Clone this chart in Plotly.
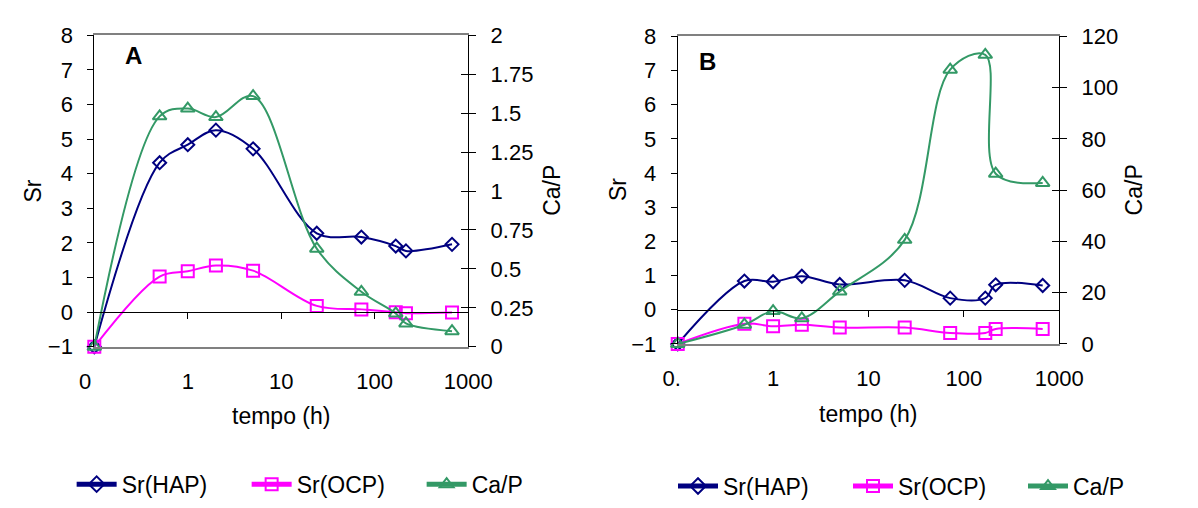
import plotly.graph_objects as go

# ---------------- data ----------------
time_h = [0.1, 0.5, 1, 2, 5, 24, 72, 168, 216, 672]

a_sr_hap = [-1, 4.32, 4.84, 5.26, 4.72, 2.28, 2.17, 1.91, 1.77, 1.96]
a_sr_ocp = [-1, 1.03, 1.18, 1.35, 1.20, 0.18, 0.08, 0.00, -0.03, -0.01]
a_ca_p = [0, 1.48, 1.53, 1.475, 1.61, 0.63, 0.353, 0.214, 0.15, 0.10]

b_sr_hap = [-1, 0.84, 0.82, 0.98, 0.74, 0.86, 0.34, 0.34, 0.73, 0.71]
b_sr_ocp = [-1, -0.41, -0.48, -0.44, -0.52, -0.52, -0.68, -0.68, -0.56, -0.56]
b_ca_p = [0, 7.5, 12.8, 10.0, 20.5, 40.6, 107, 112.8, 66.4, 62.8]

series_names = ["Sr(HAP)", "Sr(OCP)", "Ca/P"]

x_tickvals = [0.1, 1, 10, 100, 1000]
a_x_ticktext = ["0\u00a0\u00a0\u00a0", "1", "10", "100", "1000"]
b_x_ticktext = ["0.\u00a0\u00a0", "1", "10", "100", "1000"]
zero_tickvals = [1, 10, 100]

sr_ticks = [-1, 0, 1, 2, 3, 4, 5, 6, 7, 8]
a_cap_ticks = [0, 0.25, 0.5, 0.75, 1, 1.25, 1.5, 1.75, 2]
a_cap_labels = ["0", "0.25", "0.5", "0.75", "1", "1.25", "1.5", "1.75", "2"]
b_cap_ticks = [0, 20, 40, 60, 80, 100, 120]
b_cap_labels = ["0", "20", "40", "60", "80", "100", "120"]

panel_labels = ["A", "B"]
x_title = "tempo (h)"
y_left_title = "Sr"
y_right_title = "Ca/P"

# ---------------- style ----------------
W, H = 1198, 508
FONT = "Liberation Sans, Arial, sans-serif"
TICK_SIZE = 22
TEXT_SIZE = 23
NAVY = "#000080"
MAGENTA = "#FF00FF"
GREEN = "#339966"
GRAY = "#808080"


def px(x):
    return x / W


def py(y):
    return 1 - y / H


# plot-area frames (pixels)
A_L, A_R, A_T, A_B = 84, 480, 25, 358
B_L, B_R, B_T, B_B = 702, 1106, 26, 355

fig = go.Figure()

styles = [
    dict(color=NAVY, symbol="diamond-open", size=10),
    dict(color=MAGENTA, symbol="square-open", size=12),
    dict(color=GREEN, symbol="triangle-up-open", size=12),
]


def add_panel(xref, y_sr, y_cap, sr_hap, sr_ocp, ca_p, legend):
    data = [(sr_hap, y_sr), (sr_ocp, y_sr), (ca_p, y_cap)]
    for (vals, yref), st, name in zip(data, styles, series_names):
        fig.add_trace(go.Scatter(
            x=time_h, y=vals, name=name, xaxis=xref, yaxis=yref,
            mode="lines+markers", legend=legend,
            line=dict(color=st["color"], width=2, shape="spline", smoothing=1),
            marker=dict(symbol=st["symbol"], size=st["size"], color=st["color"],
                        line=dict(color=st["color"], width=2)),
            cliponaxis=False,
        ))


add_panel("x", "y", "y2", a_sr_hap, a_sr_ocp, a_ca_p, "legend")
add_panel("x2", "y3", "y4", b_sr_hap, b_sr_ocp, b_ca_p, "legend2")

# empty traces so the decoration-only tick axes get drawn
for xr, yr in [("x3", "y"), ("x4", "y3"), ("x", "y5"), ("x2", "y6")]:
    fig.add_trace(go.Scatter(x=[], y=[], xaxis=xr, yaxis=yr, showlegend=False))

tickfont = dict(family=FONT, size=TICK_SIZE, color="black")


def xaxis_cfg(L, R, ticktext, anchor):
    return dict(
        type="log", range=[-1, 3], domain=[px(L), px(R)], anchor=anchor,
        showgrid=False, zeroline=False,
        showline=True, linecolor=GRAY, linewidth=2, mirror=True,
        ticks="", tickvals=x_tickvals, ticktext=ticktext,
        tickfont=tickfont, ticklabelstandoff=14,
    )


def zero_axis_cfg(L, R, overlay, T, B):
    zero_y = B - (B - T) / 9.0  # Sr = 0 on a -1..8 axis
    return dict(
        type="log", range=[-1, 3], domain=[px(L), px(R)],
        overlaying=overlay, anchor="free", position=py(zero_y),
        showgrid=False, zeroline=False, showline=True, linecolor="black", linewidth=1,
        ticks="outside", ticklen=6, tickwidth=1, tickcolor="black",
        tickvals=zero_tickvals, showticklabels=False,
    )


def left_cfg(T, B, anchor):
    return dict(
        range=[-1, 8], domain=[py(B), py(T)], anchor=anchor,
        showgrid=False, zeroline=False, showline=True, linecolor="black", linewidth=1,
        ticks="outside", ticklen=6, tickcolor="black",
        tickvals=sr_ticks, tickfont=tickfont, ticklabelstandoff=10,
    )


def right_cfg(T, B, anchor, overlay, rng, vals, labels):
    return dict(
        range=rng, domain=[py(B), py(T)], anchor=anchor, overlaying=overlay, side="right",
        showgrid=False, zeroline=False, showline=True, linecolor="black", linewidth=1,
        ticks="outside", ticklen=7, tickcolor="black",
        tickvals=vals, ticktext=labels, tickfont=tickfont, ticklabelstandoff=10,
    )


def right_inner_cfg(T, B, anchor, overlay, rng, vals):
    return dict(
        range=rng, domain=[py(B), py(T)], anchor=anchor, overlaying=overlay, side="right",
        showgrid=False, zeroline=False, showline=False,
        ticks="inside", ticklen=7, tickcolor="black",
        tickvals=vals, showticklabels=False,
    )


annotations = []


def ann(text, x, y, size=TEXT_SIZE, angle=0, bold=False):
    annotations.append(dict(
        text=f"<b>{text}</b>" if bold else text, x=px(x), y=py(y),
        xref="paper", yref="paper", showarrow=False, textangle=angle,
        xanchor="center", yanchor="middle",
        font=dict(family=FONT, size=size, color="black"),
    ))


ann(panel_labels[0], 126, 47, size=24, bold=True)
ann(panel_labels[1], 734, 53, size=24, bold=True)
ann(y_left_title, 19, 191, angle=-90)
ann(y_right_title, 568, 191, angle=-90)
ann(y_left_title, 638, 190, angle=-90)
ann(y_right_title, 1185, 190, angle=-90)
ann(x_title, 282, 432)
ann(x_title, 904, 430)

legend_common = dict(
    orientation="h", xanchor="left", yanchor="middle",
    font=dict(family=FONT, size=TEXT_SIZE, color="black"),
    bgcolor="rgba(0,0,0,0)", entrywidth=120, entrywidthmode="pixels",
    itemsizing="constant", itemwidth=40,
)

fig.update_layout(
    width=W, height=H, margin=dict(l=0, r=0, t=0, b=0),
    paper_bgcolor="white", plot_bgcolor="white",
    font=dict(family=FONT, size=TICK_SIZE, color="black"),
    xaxis=xaxis_cfg(A_L, A_R, a_x_ticktext, "y"),
    xaxis2=xaxis_cfg(B_L, B_R, b_x_ticktext, "y3"),
    xaxis3=zero_axis_cfg(A_L, A_R, "x", A_T, A_B),
    xaxis4=zero_axis_cfg(B_L, B_R, "x2", B_T, B_B),
    yaxis=left_cfg(A_T, A_B, "x"),
    yaxis2=right_cfg(A_T, A_B, "x", "y", [0, 2], a_cap_ticks, a_cap_labels),
    yaxis3=left_cfg(B_T, B_B, "x2"),
    yaxis4=right_cfg(B_T, B_B, "x2", "y3", [0, 120], b_cap_ticks, b_cap_labels),
    yaxis5=right_inner_cfg(A_T, A_B, "x", "y", [0, 2], a_cap_ticks),
    yaxis6=right_inner_cfg(B_T, B_B, "x2", "y3", [0, 120], b_cap_ticks),
    legend=dict(x=px(60), y=py(505), **legend_common),
    legend2=dict(x=px(697), y=py(507), **legend_common),
    annotations=annotations,
    showlegend=True,
)

fig.write_html("out.html")
